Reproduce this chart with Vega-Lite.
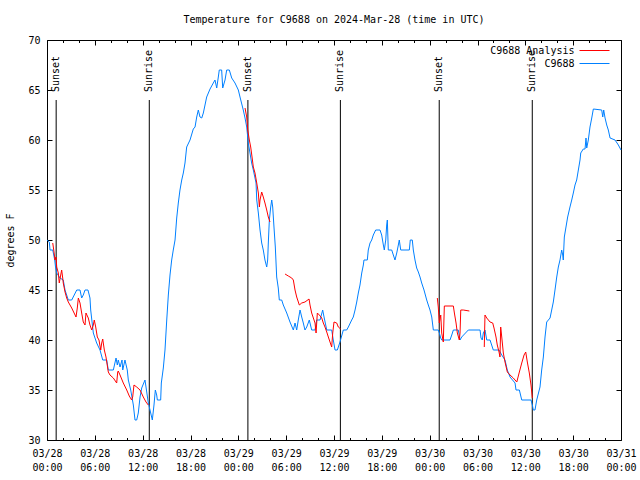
{
  "$schema": "https://vega.github.io/schema/vega-lite/v6.json",
  "width": 574,
  "height": 400,
  "autosize": {"type": "none"},
  "padding": {"left": 47, "top": 40, "right": 19, "bottom": 40},
  "background": "white",
  "config": {
    "font": "DejaVu Sans Mono",
    "view": {"stroke": "black", "strokeWidth": 1},
    "axis": {"domain": false, "grid": false, "tickColor": "black", "tickWidth": 1, "labelColor": "black", "labelFontSize": 10, "labelFont": "DejaVu Sans Mono", "titleFont": "DejaVu Sans Mono", "titleFontSize": 10, "titleFontWeight": "normal", "titleColor": "black"},
    "legend": {"orient": "none", "legendX": 542.5, "legendY": 5.5, "symbolType": "M-15,0H15", "symbolSize": 4, "symbolStrokeWidth": 1, "labelAlign": "right", "labelOffset": -25, "labelFontSize": 10, "labelFont": "DejaVu Sans Mono", "labelColor": "black", "rowPadding": 3}
  },
  "title": {"text": "Temperature for C9688 on 2024-Mar-28 (time in UTC)", "fontSize": 10, "fontWeight": "normal", "font": "DejaVu Sans Mono", "color": "black", "frame": "group", "anchor": "middle", "baseline": "bottom", "offset": 0},
  "datasets": {
    "sun": [
      {"h": 1.15, "label": "Sunset"},
      {"h": 12.83, "label": "Sunrise"},
      {"h": 25.2, "label": "Sunset"},
      {"h": 36.8, "label": "Sunrise"},
      {"h": 49.2, "label": "Sunset"},
      {"h": 60.87, "label": "Sunrise"}
    ],
    "obs": [
      {"h":0.00,"t":50,"s":"C9688","g":0},{"h":0.29,"t":49.8,"s":"C9688","g":0},{"h":0.38,"t":49,"s":"C9688","g":0},{"h":0.72,"t":49,"s":"C9688","g":0},{"h":0.97,"t":48,"s":"C9688","g":0},{"h":1.07,"t":47.3,"s":"C9688","g":0},{"h":1.22,"t":46.7,"s":"C9688","g":0},{"h":1.63,"t":46.2,"s":"C9688","g":0},{"h":2.04,"t":46,"s":"C9688","g":0},{"h":2.26,"t":45,"s":"C9688","g":0},{"h":2.67,"t":44,"s":"C9688","g":0},{"h":3.10,"t":44,"s":"C9688","g":0},{"h":3.73,"t":45,"s":"C9688","g":0},{"h":4.14,"t":45,"s":"C9688","g":0},{"h":4.35,"t":44.2,"s":"C9688","g":0},{"h":4.55,"t":44.5,"s":"C9688","g":0},{"h":4.77,"t":45,"s":"C9688","g":0},{"h":5.14,"t":45,"s":"C9688","g":0},{"h":5.39,"t":44.2,"s":"C9688","g":0},{"h":5.48,"t":43,"s":"C9688","g":0},{"h":5.81,"t":40.7,"s":"C9688","g":0},{"h":6.23,"t":39.7,"s":"C9688","g":0},{"h":6.65,"t":39,"s":"C9688","g":0},{"h":6.99,"t":38,"s":"C9688","g":0},{"h":7.49,"t":38,"s":"C9688","g":0},{"h":7.69,"t":37,"s":"C9688","g":0},{"h":8.32,"t":37,"s":"C9688","g":0},{"h":8.66,"t":38.2,"s":"C9688","g":0},{"h":8.82,"t":37.5,"s":"C9688","g":0},{"h":8.94,"t":38,"s":"C9688","g":0},{"h":9.16,"t":37.3,"s":"C9688","g":0},{"h":9.41,"t":38,"s":"C9688","g":0},{"h":9.50,"t":37,"s":"C9688","g":0},{"h":9.78,"t":38,"s":"C9688","g":0},{"h":10.07,"t":37,"s":"C9688","g":0},{"h":10.20,"t":36,"s":"C9688","g":0},{"h":10.50,"t":35,"s":"C9688","g":0},{"h":10.83,"t":33.5,"s":"C9688","g":0},{"h":11.04,"t":32,"s":"C9688","g":0},{"h":11.25,"t":32,"s":"C9688","g":0},{"h":11.45,"t":32.7,"s":"C9688","g":0},{"h":11.67,"t":34.3,"s":"C9688","g":0},{"h":11.88,"t":35.2,"s":"C9688","g":0},{"h":12.29,"t":36,"s":"C9688","g":0},{"h":12.42,"t":35.3,"s":"C9688","g":0},{"h":12.71,"t":33.7,"s":"C9688","g":0},{"h":12.92,"t":33,"s":"C9688","g":0},{"h":13.21,"t":32,"s":"C9688","g":0},{"h":13.42,"t":33.5,"s":"C9688","g":0},{"h":13.59,"t":35,"s":"C9688","g":0},{"h":13.76,"t":34.5,"s":"C9688","g":0},{"h":13.84,"t":34,"s":"C9688","g":0},{"h":14.26,"t":34,"s":"C9688","g":0},{"h":14.34,"t":35.7,"s":"C9688","g":0},{"h":14.59,"t":37.2,"s":"C9688","g":0},{"h":14.80,"t":39,"s":"C9688","g":0},{"h":15.02,"t":42,"s":"C9688","g":0},{"h":15.22,"t":44.5,"s":"C9688","g":0},{"h":15.43,"t":46.5,"s":"C9688","g":0},{"h":15.64,"t":48,"s":"C9688","g":0},{"h":15.84,"t":49,"s":"C9688","g":0},{"h":16.06,"t":50,"s":"C9688","g":0},{"h":16.27,"t":52.2,"s":"C9688","g":0},{"h":16.47,"t":53.7,"s":"C9688","g":0},{"h":16.68,"t":55,"s":"C9688","g":0},{"h":16.90,"t":56,"s":"C9688","g":0},{"h":17.10,"t":56.7,"s":"C9688","g":0},{"h":17.31,"t":57.7,"s":"C9688","g":0},{"h":17.52,"t":59.3,"s":"C9688","g":0},{"h":17.94,"t":60,"s":"C9688","g":0},{"h":18.35,"t":61.1,"s":"C9688","g":0},{"h":18.57,"t":61.3,"s":"C9688","g":0},{"h":18.78,"t":62.3,"s":"C9688","g":0},{"h":18.98,"t":63,"s":"C9688","g":0},{"h":19.19,"t":62.3,"s":"C9688","g":0},{"h":19.41,"t":62.2,"s":"C9688","g":0},{"h":19.61,"t":62.7,"s":"C9688","g":0},{"h":20.03,"t":64.3,"s":"C9688","g":0},{"h":20.45,"t":65.1,"s":"C9688","g":0},{"h":20.86,"t":65.7,"s":"C9688","g":0},{"h":21.07,"t":66,"s":"C9688","g":0},{"h":21.29,"t":65.2,"s":"C9688","g":0},{"h":21.49,"t":66.3,"s":"C9688","g":0},{"h":21.61,"t":67,"s":"C9688","g":0},{"h":21.91,"t":67,"s":"C9688","g":0},{"h":22.04,"t":65.2,"s":"C9688","g":0},{"h":22.33,"t":66,"s":"C9688","g":0},{"h":22.54,"t":67,"s":"C9688","g":0},{"h":22.87,"t":67,"s":"C9688","g":0},{"h":23.17,"t":66.2,"s":"C9688","g":0},{"h":23.58,"t":65.7,"s":"C9688","g":0},{"h":24.00,"t":65,"s":"C9688","g":0},{"h":24.21,"t":64.3,"s":"C9688","g":0},{"h":24.62,"t":63,"s":"C9688","g":0},{"h":24.84,"t":62.2,"s":"C9688","g":0},{"h":25.05,"t":61.3,"s":"C9688","g":0},{"h":25.25,"t":59.7,"s":"C9688","g":0},{"h":25.46,"t":58.7,"s":"C9688","g":0},{"h":25.67,"t":57.7,"s":"C9688","g":0},{"h":25.88,"t":57,"s":"C9688","g":0},{"h":26.22,"t":55.7,"s":"C9688","g":0},{"h":26.31,"t":54,"s":"C9688","g":0},{"h":26.51,"t":52.7,"s":"C9688","g":0},{"h":26.72,"t":51,"s":"C9688","g":0},{"h":26.93,"t":49.7,"s":"C9688","g":0},{"h":27.13,"t":49,"s":"C9688","g":0},{"h":27.34,"t":48,"s":"C9688","g":0},{"h":27.56,"t":47.3,"s":"C9688","g":0},{"h":27.68,"t":48,"s":"C9688","g":0},{"h":27.76,"t":49.7,"s":"C9688","g":0},{"h":27.89,"t":52,"s":"C9688","g":0},{"h":28.06,"t":53.3,"s":"C9688","g":0},{"h":28.19,"t":54,"s":"C9688","g":0},{"h":28.31,"t":53.3,"s":"C9688","g":0},{"h":28.47,"t":51.3,"s":"C9688","g":0},{"h":28.64,"t":49.3,"s":"C9688","g":0},{"h":28.81,"t":46.3,"s":"C9688","g":0},{"h":29.01,"t":45.2,"s":"C9688","g":0},{"h":29.14,"t":44,"s":"C9688","g":0},{"h":29.44,"t":44,"s":"C9688","g":0},{"h":29.64,"t":43.5,"s":"C9688","g":0},{"h":30.07,"t":42.7,"s":"C9688","g":0},{"h":30.48,"t":41.8,"s":"C9688","g":0},{"h":30.90,"t":41,"s":"C9688","g":0},{"h":31.11,"t":41.7,"s":"C9688","g":0},{"h":31.32,"t":41,"s":"C9688","g":0},{"h":31.52,"t":42,"s":"C9688","g":0},{"h":31.74,"t":43,"s":"C9688","g":0},{"h":31.95,"t":42.3,"s":"C9688","g":0},{"h":32.15,"t":41.7,"s":"C9688","g":0},{"h":32.36,"t":41,"s":"C9688","g":0},{"h":32.58,"t":41.3,"s":"C9688","g":0},{"h":32.90,"t":42,"s":"C9688","g":0},{"h":33.20,"t":41,"s":"C9688","g":0},{"h":33.62,"t":41,"s":"C9688","g":0},{"h":33.83,"t":42,"s":"C9688","g":0},{"h":34.25,"t":42,"s":"C9688","g":0},{"h":34.58,"t":43,"s":"C9688","g":0},{"h":34.75,"t":42.3,"s":"C9688","g":0},{"h":35.09,"t":41,"s":"C9688","g":0},{"h":35.71,"t":41,"s":"C9688","g":0},{"h":35.91,"t":40,"s":"C9688","g":0},{"h":36.13,"t":39,"s":"C9688","g":0},{"h":36.42,"t":39,"s":"C9688","g":0},{"h":36.75,"t":39.8,"s":"C9688","g":0},{"h":37.17,"t":41,"s":"C9688","g":0},{"h":37.59,"t":41,"s":"C9688","g":0},{"h":37.80,"t":41.3,"s":"C9688","g":0},{"h":38.22,"t":42,"s":"C9688","g":0},{"h":38.42,"t":42.3,"s":"C9688","g":0},{"h":38.64,"t":43,"s":"C9688","g":0},{"h":38.85,"t":43.8,"s":"C9688","g":0},{"h":39.05,"t":44.7,"s":"C9688","g":0},{"h":39.26,"t":45.5,"s":"C9688","g":0},{"h":39.48,"t":46.7,"s":"C9688","g":0},{"h":39.68,"t":47.5,"s":"C9688","g":0},{"h":39.76,"t":48,"s":"C9688","g":0},{"h":40.18,"t":48,"s":"C9688","g":0},{"h":40.30,"t":49,"s":"C9688","g":0},{"h":40.52,"t":49.7,"s":"C9688","g":0},{"h":40.73,"t":50,"s":"C9688","g":0},{"h":40.93,"t":50.5,"s":"C9688","g":0},{"h":41.23,"t":51,"s":"C9688","g":0},{"h":41.77,"t":51,"s":"C9688","g":0},{"h":41.98,"t":50.5,"s":"C9688","g":0},{"h":42.19,"t":49.5,"s":"C9688","g":0},{"h":42.31,"t":49,"s":"C9688","g":0},{"h":42.49,"t":50,"s":"C9688","g":0},{"h":42.61,"t":51.5,"s":"C9688","g":0},{"h":42.69,"t":52,"s":"C9688","g":0},{"h":42.81,"t":49,"s":"C9688","g":0},{"h":43.24,"t":49,"s":"C9688","g":0},{"h":43.44,"t":48.5,"s":"C9688","g":0},{"h":43.65,"t":48,"s":"C9688","g":0},{"h":43.87,"t":48.7,"s":"C9688","g":0},{"h":44.07,"t":49.5,"s":"C9688","g":0},{"h":44.19,"t":50,"s":"C9688","g":0},{"h":44.37,"t":49,"s":"C9688","g":0},{"h":45.45,"t":49,"s":"C9688","g":0},{"h":45.57,"t":50,"s":"C9688","g":0},{"h":45.82,"t":50,"s":"C9688","g":0},{"h":45.95,"t":49,"s":"C9688","g":0},{"h":46.16,"t":48,"s":"C9688","g":0},{"h":46.37,"t":47.2,"s":"C9688","g":0},{"h":46.58,"t":46.8,"s":"C9688","g":0},{"h":46.79,"t":46.3,"s":"C9688","g":0},{"h":47.00,"t":45.7,"s":"C9688","g":0},{"h":47.29,"t":45,"s":"C9688","g":0},{"h":47.63,"t":44,"s":"C9688","g":0},{"h":47.83,"t":43.5,"s":"C9688","g":0},{"h":48.04,"t":43,"s":"C9688","g":0},{"h":48.26,"t":42.3,"s":"C9688","g":0},{"h":48.46,"t":41,"s":"C9688","g":0},{"h":49.08,"t":41,"s":"C9688","g":0},{"h":49.21,"t":40.7,"s":"C9688","g":0},{"h":49.39,"t":40.2,"s":"C9688","g":0},{"h":49.51,"t":40,"s":"C9688","g":0},{"h":50.55,"t":40,"s":"C9688","g":0},{"h":50.77,"t":40.5,"s":"C9688","g":0},{"h":50.97,"t":41,"s":"C9688","g":0},{"h":51.59,"t":41,"s":"C9688","g":0},{"h":51.81,"t":40,"s":"C9688","g":0},{"h":52.02,"t":40.3,"s":"C9688","g":0},{"h":52.85,"t":41,"s":"C9688","g":0},{"h":54.32,"t":41,"s":"C9688","g":0},{"h":54.44,"t":40.2,"s":"C9688","g":0},{"h":54.60,"t":40,"s":"C9688","g":0},{"h":54.73,"t":40.7,"s":"C9688","g":0},{"h":54.94,"t":41,"s":"C9688","g":0},{"h":55.16,"t":40,"s":"C9688","g":0},{"h":55.57,"t":40,"s":"C9688","g":0},{"h":55.98,"t":39,"s":"C9688","g":0},{"h":56.70,"t":39,"s":"C9688","g":0},{"h":57.04,"t":38.5,"s":"C9688","g":0},{"h":57.45,"t":38,"s":"C9688","g":0},{"h":57.74,"t":37,"s":"C9688","g":0},{"h":58.08,"t":36.3,"s":"C9688","g":0},{"h":58.71,"t":35.7,"s":"C9688","g":0},{"h":58.83,"t":35,"s":"C9688","g":0},{"h":59.25,"t":35,"s":"C9688","g":0},{"h":59.55,"t":34,"s":"C9688","g":0},{"h":60.71,"t":34,"s":"C9688","g":0},{"h":60.88,"t":33.5,"s":"C9688","g":0},{"h":61.00,"t":33,"s":"C9688","g":0},{"h":61.21,"t":33,"s":"C9688","g":0},{"h":61.43,"t":34,"s":"C9688","g":0},{"h":61.84,"t":35.3,"s":"C9688","g":0},{"h":62.05,"t":37,"s":"C9688","g":0},{"h":62.26,"t":38.3,"s":"C9688","g":0},{"h":62.47,"t":40.3,"s":"C9688","g":0},{"h":62.68,"t":41.8,"s":"C9688","g":0},{"h":63.10,"t":42.2,"s":"C9688","g":0},{"h":63.51,"t":43.8,"s":"C9688","g":0},{"h":63.72,"t":45,"s":"C9688","g":0},{"h":63.94,"t":46.3,"s":"C9688","g":0},{"h":64.14,"t":47.3,"s":"C9688","g":0},{"h":64.35,"t":48,"s":"C9688","g":0},{"h":64.56,"t":49,"s":"C9688","g":0},{"h":64.69,"t":48.5,"s":"C9688","g":0},{"h":64.76,"t":48,"s":"C9688","g":0},{"h":64.89,"t":50.3,"s":"C9688","g":0},{"h":65.10,"t":51.3,"s":"C9688","g":0},{"h":65.31,"t":52.3,"s":"C9688","g":0},{"h":65.60,"t":53.3,"s":"C9688","g":0},{"h":65.82,"t":54,"s":"C9688","g":0},{"h":66.02,"t":54.7,"s":"C9688","g":0},{"h":66.23,"t":55.5,"s":"C9688","g":0},{"h":66.44,"t":56,"s":"C9688","g":0},{"h":66.65,"t":57,"s":"C9688","g":0},{"h":66.86,"t":58,"s":"C9688","g":0},{"h":66.95,"t":58.7,"s":"C9688","g":0},{"h":67.27,"t":59.1,"s":"C9688","g":0},{"h":67.49,"t":59.1,"s":"C9688","g":0},{"h":67.61,"t":60.2,"s":"C9688","g":0},{"h":67.70,"t":59.2,"s":"C9688","g":0},{"h":67.90,"t":60,"s":"C9688","g":0},{"h":68.11,"t":61.3,"s":"C9688","g":0},{"h":68.33,"t":62.2,"s":"C9688","g":0},{"h":68.53,"t":63.1,"s":"C9688","g":0},{"h":69.58,"t":63,"s":"C9688","g":0},{"h":69.71,"t":62.3,"s":"C9688","g":0},{"h":69.83,"t":63,"s":"C9688","g":0},{"h":70.00,"t":62.2,"s":"C9688","g":0},{"h":70.21,"t":61.5,"s":"C9688","g":0},{"h":70.41,"t":61,"s":"C9688","g":0},{"h":70.63,"t":60.2,"s":"C9688","g":0},{"h":71.25,"t":60,"s":"C9688","g":0},{"h":71.67,"t":59.5,"s":"C9688","g":0},{"h":72.00,"t":59,"s":"C9688","g":0},
      {"h":0.72,"t":49.7,"s":"C9688 Analysis","g":1},{"h":0.88,"t":48.8,"s":"C9688 Analysis","g":1},{"h":1.00,"t":48,"s":"C9688 Analysis","g":1},{"h":1.13,"t":48.3,"s":"C9688 Analysis","g":1},{"h":1.22,"t":47.3,"s":"C9688 Analysis","g":1},{"h":1.42,"t":46.7,"s":"C9688 Analysis","g":1},{"h":1.54,"t":45.7,"s":"C9688 Analysis","g":1},{"h":1.72,"t":46.5,"s":"C9688 Analysis","g":1},{"h":1.84,"t":47,"s":"C9688 Analysis","g":1},{"h":1.97,"t":46.2,"s":"C9688 Analysis","g":1},{"h":2.04,"t":45.7,"s":"C9688 Analysis","g":1},{"h":2.26,"t":44.8,"s":"C9688 Analysis","g":1},{"h":2.47,"t":44.2,"s":"C9688 Analysis","g":1},{"h":2.67,"t":43.8,"s":"C9688 Analysis","g":1},{"h":3.10,"t":43.2,"s":"C9688 Analysis","g":1},{"h":3.64,"t":42.3,"s":"C9688 Analysis","g":1},{"h":3.80,"t":43.2,"s":"C9688 Analysis","g":1},{"h":3.93,"t":44.2,"s":"C9688 Analysis","g":1},{"h":4.14,"t":43.7,"s":"C9688 Analysis","g":1},{"h":4.35,"t":42.7,"s":"C9688 Analysis","g":1},{"h":4.55,"t":41.8,"s":"C9688 Analysis","g":1},{"h":4.77,"t":41.5,"s":"C9688 Analysis","g":1},{"h":4.89,"t":42.7,"s":"C9688 Analysis","g":1},{"h":5.18,"t":42.2,"s":"C9688 Analysis","g":1},{"h":5.39,"t":41.5,"s":"C9688 Analysis","g":1},{"h":5.61,"t":41,"s":"C9688 Analysis","g":1},{"h":5.81,"t":41.5,"s":"C9688 Analysis","g":1},{"h":5.93,"t":42,"s":"C9688 Analysis","g":1},{"h":6.11,"t":41.3,"s":"C9688 Analysis","g":1},{"h":6.31,"t":40.3,"s":"C9688 Analysis","g":1},{"h":6.52,"t":40,"s":"C9688 Analysis","g":1},{"h":6.74,"t":39,"s":"C9688 Analysis","g":1},{"h":6.86,"t":39.7,"s":"C9688 Analysis","g":1},{"h":6.99,"t":40.1,"s":"C9688 Analysis","g":1},{"h":7.19,"t":39,"s":"C9688 Analysis","g":1},{"h":7.40,"t":38.3,"s":"C9688 Analysis","g":1},{"h":7.69,"t":36.8,"s":"C9688 Analysis","g":1},{"h":7.90,"t":36.5,"s":"C9688 Analysis","g":1},{"h":8.32,"t":36.2,"s":"C9688 Analysis","g":1},{"h":8.74,"t":35.7,"s":"C9688 Analysis","g":1},{"h":8.87,"t":36.8,"s":"C9688 Analysis","g":1},{"h":8.94,"t":36.9,"s":"C9688 Analysis","g":1},{"h":9.16,"t":36.5,"s":"C9688 Analysis","g":1},{"h":9.57,"t":35.7,"s":"C9688 Analysis","g":1},{"h":10.00,"t":35,"s":"C9688 Analysis","g":1},{"h":10.32,"t":34.4,"s":"C9688 Analysis","g":1},{"h":10.62,"t":34,"s":"C9688 Analysis","g":1},{"h":10.75,"t":34.3,"s":"C9688 Analysis","g":1},{"h":10.91,"t":35.5,"s":"C9688 Analysis","g":1},{"h":11.25,"t":35.3,"s":"C9688 Analysis","g":1},{"h":11.67,"t":35,"s":"C9688 Analysis","g":1},{"h":12.08,"t":34.3,"s":"C9688 Analysis","g":1},{"h":12.42,"t":33.8,"s":"C9688 Analysis","g":1},{"h":12.71,"t":33.5,"s":"C9688 Analysis","g":1},
      {"h":24.84,"t":63.2,"s":"C9688 Analysis","g":2},{"h":25.05,"t":62.3,"s":"C9688 Analysis","g":2},{"h":25.18,"t":61,"s":"C9688 Analysis","g":2},{"h":25.38,"t":60,"s":"C9688 Analysis","g":2},{"h":25.55,"t":59.3,"s":"C9688 Analysis","g":2},{"h":25.72,"t":58.3,"s":"C9688 Analysis","g":2},{"h":25.88,"t":57.3,"s":"C9688 Analysis","g":2},{"h":26.09,"t":56.7,"s":"C9688 Analysis","g":2},{"h":26.31,"t":55.7,"s":"C9688 Analysis","g":2},{"h":26.51,"t":54.7,"s":"C9688 Analysis","g":2},{"h":26.64,"t":53.3,"s":"C9688 Analysis","g":2},{"h":26.72,"t":54,"s":"C9688 Analysis","g":2},{"h":26.93,"t":54.8,"s":"C9688 Analysis","g":2},{"h":27.13,"t":54.3,"s":"C9688 Analysis","g":2},{"h":27.34,"t":53.7,"s":"C9688 Analysis","g":2},{"h":27.56,"t":53,"s":"C9688 Analysis","g":2},{"h":27.76,"t":52.3,"s":"C9688 Analysis","g":2},{"h":27.97,"t":51.8,"s":"C9688 Analysis","g":2},
      {"h":29.86,"t":46.6,"s":"C9688 Analysis","g":3},{"h":30.27,"t":46.4,"s":"C9688 Analysis","g":3},{"h":30.70,"t":46.2,"s":"C9688 Analysis","g":3},{"h":30.90,"t":46,"s":"C9688 Analysis","g":3},{"h":31.11,"t":45,"s":"C9688 Analysis","g":3},{"h":31.32,"t":44.3,"s":"C9688 Analysis","g":3},{"h":31.65,"t":43.5,"s":"C9688 Analysis","g":3},{"h":31.95,"t":43.7,"s":"C9688 Analysis","g":3},{"h":32.36,"t":43.8,"s":"C9688 Analysis","g":3},{"h":32.87,"t":44.1,"s":"C9688 Analysis","g":3},{"h":32.99,"t":43.5,"s":"C9688 Analysis","g":3},{"h":33.20,"t":42.7,"s":"C9688 Analysis","g":3},{"h":33.62,"t":41.7,"s":"C9688 Analysis","g":3},{"h":33.75,"t":40.7,"s":"C9688 Analysis","g":3},{"h":33.91,"t":42.7,"s":"C9688 Analysis","g":3},{"h":34.16,"t":42.5,"s":"C9688 Analysis","g":3},{"h":34.46,"t":42.2,"s":"C9688 Analysis","g":3},{"h":34.66,"t":41.7,"s":"C9688 Analysis","g":3},{"h":34.87,"t":41.3,"s":"C9688 Analysis","g":3},{"h":35.09,"t":40.8,"s":"C9688 Analysis","g":3},{"h":35.29,"t":40.3,"s":"C9688 Analysis","g":3},{"h":35.50,"t":39.8,"s":"C9688 Analysis","g":3},{"h":35.71,"t":39.3,"s":"C9688 Analysis","g":3},{"h":35.84,"t":40.7,"s":"C9688 Analysis","g":3},{"h":36.00,"t":41.8,"s":"C9688 Analysis","g":3},{"h":36.34,"t":41.7,"s":"C9688 Analysis","g":3},{"h":36.54,"t":41.3,"s":"C9688 Analysis","g":3},{"h":36.84,"t":41.1,"s":"C9688 Analysis","g":3},
      {"h":48.96,"t":44.2,"s":"C9688 Analysis","g":4},{"h":49.08,"t":43.3,"s":"C9688 Analysis","g":4},{"h":49.21,"t":41.7,"s":"C9688 Analysis","g":4},{"h":49.39,"t":42.5,"s":"C9688 Analysis","g":4},{"h":49.51,"t":40.7,"s":"C9688 Analysis","g":4},{"h":49.71,"t":39.8,"s":"C9688 Analysis","g":4},{"h":49.84,"t":43.4,"s":"C9688 Analysis","g":4},{"h":50.97,"t":43.4,"s":"C9688 Analysis","g":4},{"h":51.10,"t":42.7,"s":"C9688 Analysis","g":4},{"h":51.31,"t":41.7,"s":"C9688 Analysis","g":4},{"h":51.47,"t":40.7,"s":"C9688 Analysis","g":4},{"h":51.72,"t":40,"s":"C9688 Analysis","g":4},{"h":51.81,"t":40.7,"s":"C9688 Analysis","g":4},{"h":51.90,"t":43,"s":"C9688 Analysis","g":4},{"h":52.22,"t":43,"s":"C9688 Analysis","g":4},{"h":52.98,"t":42.9,"s":"C9688 Analysis","g":4},
      {"h":54.85,"t":39.3,"s":"C9688 Analysis","g":5},{"h":54.94,"t":42.5,"s":"C9688 Analysis","g":5},{"h":55.16,"t":42.2,"s":"C9688 Analysis","g":5},{"h":55.57,"t":41.8,"s":"C9688 Analysis","g":5},{"h":55.91,"t":41.7,"s":"C9688 Analysis","g":5},{"h":56.07,"t":41.2,"s":"C9688 Analysis","g":5},{"h":56.32,"t":40.3,"s":"C9688 Analysis","g":5},{"h":56.48,"t":39.5,"s":"C9688 Analysis","g":5},{"h":56.70,"t":38.8,"s":"C9688 Analysis","g":5},{"h":56.82,"t":38.3,"s":"C9688 Analysis","g":5},{"h":56.91,"t":41.3,"s":"C9688 Analysis","g":5},{"h":57.04,"t":40.3,"s":"C9688 Analysis","g":5},{"h":57.24,"t":38.7,"s":"C9688 Analysis","g":5},{"h":57.45,"t":37.8,"s":"C9688 Analysis","g":5},{"h":57.74,"t":36.8,"s":"C9688 Analysis","g":5},{"h":58.08,"t":36.5,"s":"C9688 Analysis","g":5},{"h":58.49,"t":36.2,"s":"C9688 Analysis","g":5},{"h":58.93,"t":35.8,"s":"C9688 Analysis","g":5},{"h":59.25,"t":36.8,"s":"C9688 Analysis","g":5},{"h":59.55,"t":37.7,"s":"C9688 Analysis","g":5},{"h":59.84,"t":38.5,"s":"C9688 Analysis","g":5},{"h":60.05,"t":38.8,"s":"C9688 Analysis","g":5},{"h":60.25,"t":37.8,"s":"C9688 Analysis","g":5},{"h":60.50,"t":36.7,"s":"C9688 Analysis","g":5},{"h":60.71,"t":35.5,"s":"C9688 Analysis","g":5},{"h":60.88,"t":34.2,"s":"C9688 Analysis","g":5}
    ]
  },
  "resolve": {"axis": {"x": "independent", "y": "independent"}},
  "layer": [
    {
      "data": {"name": "sun"},
      "mark": {"type": "rule", "color": "black", "strokeWidth": 1},
      "encoding": {
        "x": {"field": "h", "type": "quantitative", "scale": {"domain": [0, 72], "nice": false, "zero": false},
              "axis": {"orient": "top", "values": [0,2,4,6,8,10,12,14,16,18,20,22,24,26,28,30,32,34,36,38,40,42,44,46,48,50,52,54,56,58,60,62,64,66,68,70,72], "labels": false, "title": null,
                       "tickSize": {"condition": {"test": "datum.value % 6 === 0", "value": -5}, "value": -2.5}}},
        "y": {"datum": 64, "type": "quantitative", "scale": {"domain": [30, 70], "nice": false, "zero": false},
              "axis": {"orient": "right", "values": [30,35,40,45,50,55,60,65,70], "labels": false, "title": null, "tickSize": -5}},
        "y2": {"datum": 30}
      }
    },
    {
      "data": {"name": "sun"},
      "mark": {"type": "text", "angle": 270, "align": "left", "baseline": "middle", "fontSize": 10, "font": "DejaVu Sans Mono", "color": "black"},
      "encoding": {
        "x": {"field": "h", "type": "quantitative", "axis": null},
        "y": {"datum": 64.8, "type": "quantitative", "axis": null},
        "text": {"field": "label"}
      }
    },
    {
      "data": {"name": "obs"},
      "mark": {"type": "line", "strokeWidth": 1},
      "encoding": {
        "x": {"field": "h", "type": "quantitative",
              "axis": {"orient": "bottom", "values": [0,2,4,6,8,10,12,14,16,18,20,22,24,26,28,30,32,34,36,38,40,42,44,46,48,50,52,54,56,58,60,62,64,66,68,70,72], "title": null,
                       "tickSize": {"condition": {"test": "datum.value % 6 === 0", "value": -5}, "value": -2.5},
                       "labelExpr": "datum.value % 6 === 0 ? ['03/' + (28 + floor(datum.value / 24)), (datum.value % 24 < 10 ? '0' : '') + (datum.value % 24) + ':00'] : ''",
                       "labelPadding": 13, "labelLineHeight": 14, "labelOverlap": false, "labelFlush": false}},
        "y": {"field": "t", "type": "quantitative",
              "axis": {"orient": "left", "values": [30,35,40,45,50,55,60,65,70], "title": "degrees F", "tickSize": -5, "labelPadding": 12, "titlePadding": 12, "labelFlush": false, "labelOverlap": false}},
        "color": {"field": "s", "type": "nominal", "scale": {"domain": ["C9688 Analysis", "C9688"], "range": ["#ff0000", "#0080ff"]}, "legend": {"title": null}},
        "detail": {"field": "g", "type": "nominal"}
      }
    }
  ]
}
